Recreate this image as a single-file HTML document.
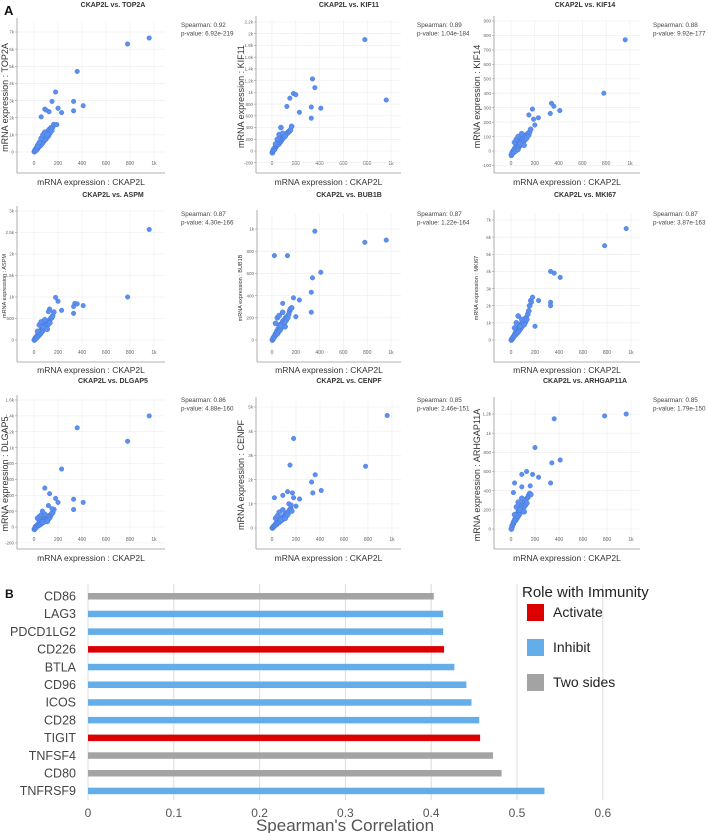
<!DOCTYPE html>
<html><head><meta charset="utf-8">
<style>
html,body{margin:0;padding:0;background:#fff;}
svg{display:block;font-family:"Liberation Sans",sans-serif;}
</style></head>
<body>
<svg id="fig" width="708" height="833" viewBox="0 0 708 833" xmlns="http://www.w3.org/2000/svg">
<text x="4" y="15" font-size="13" font-weight="bold" fill="#111">A</text>
<text x="5" y="598" font-size="12" font-weight="bold" fill="#111">B</text>
<g id="scatters"></g>
<g id="bars"></g>
</svg>
<script>
// ---------- Scatter data ----------
const clusterX = [3,8,12,18,22,28,33,38,42,48,52,58,63,68,72,78,82,88,92,98,103,108,115,120,125,132,140,148,155,165,30,45,60,75,90,110];
const geneNames = ["TOP2A","KIF11","KIF14","ASPM","BUB1B","MKI67","DLGAP5","CENPF","ARHGAP11A"];
const spearmanVals = ["0.92","0.89","0.88","0.87","0.87","0.87","0.86","0.85","0.85"];
const pValues = ["6.92e-219","1.04e-184","9.92e-177","4.30e-166","1.22e-164","3.87e-163","4.88e-160","2.46e-151","1.79e-150"];
const clusterTOP2A = [20,60,150,100,250,180,400,300,500,350,600,420,750,500,800,600,900,700,1000,750,1100,850,1200,950,1300,1100,1400,1250,1450,1600,350,550,800,1000,1150,1000];
const clusterKIF11 = [-30,0,20,40,30,60,80,90,100,110,130,120,160,150,170,180,200,210,220,240,250,260,280,290,300,310,330,340,360,420,120,200,280,400,300,250];
const clusterKIF14 = [-30,-20,-10,0,-10,10,20,0,30,20,40,10,50,30,60,40,70,50,80,60,90,70,100,80,110,90,120,110,130,150,60,80,100,50,120,40];
const clusterASPM = [0,20,50,40,80,70,120,100,150,130,200,160,250,200,280,240,320,270,350,300,380,330,420,370,450,400,500,520,560,650,200,350,420,300,470,250];
const clusterBUB1B = [0,10,20,30,30,50,60,50,80,60,100,80,120,90,140,110,150,130,170,140,180,160,200,180,210,200,230,260,280,290,150,200,220,130,250,120];
const clusterMKI67 = [0,50,100,150,200,250,350,300,450,400,550,450,700,550,800,650,900,750,1000,850,1100,950,1200,1050,1300,1200,1500,1700,2000,2300,700,1000,1400,800,1200,900];
const clusterDLGAP5 = [-30,-20,0,10,0,20,30,20,50,30,60,40,80,50,90,60,100,70,110,80,120,90,130,100,140,120,150,170,180,220,110,130,150,60,160,70];
const clusterCENPF = [0,20,60,80,100,130,180,150,230,200,280,230,330,280,380,320,420,360,470,400,520,450,570,500,620,560,680,750,800,700,400,500,650,350,750,400];
const clusterARHGAP11A = [0,20,40,50,70,80,100,90,130,110,160,130,190,150,210,170,230,190,250,210,270,230,290,250,310,270,330,350,370,360,150,230,280,200,320,180];
const outX_TOP2A = [780,960,360,180,150,330,410,200,90,230,330,125,60,100,190];
const outY_TOP2A = [6300,6650,4700,3500,2950,2950,2700,2550,2500,2300,2400,2350,2050,2450,1600];
const outX_KIF11 = [780,960,340,360,180,200,150,125,330,410,230,330];
const outY_KIF11 = [1900,870,1230,1080,980,960,900,760,750,730,660,560];
const outX_KIF14 = [960,780,340,360,410,180,150,330,230,190,200];
const outY_KIF14 = [770,400,330,310,280,290,250,260,230,220,180];
const outX_ASPM = [960,780,180,200,340,360,410,330,330,230,130,120];
const outY_ASPM = [2570,1000,990,900,850,840,800,780,620,690,720,660];
const outX_BUB1B = [360,780,960,20,130,410,340,330,180,230,90,200,330];
const outY_BUB1B = [980,880,900,760,760,610,560,430,380,360,330,210,250];
const outX_MKI67 = [960,780,330,360,410,180,230,330,330,170,200];
const outY_MKI67 = [6500,5500,4000,3900,3650,2500,2300,2200,2000,2200,800];
const outX_DLGAP5 = [960,360,780,230,90,130,180,330,410,200,330,70,120,150];
const outY_DLGAP5 = [1400,1250,1080,730,490,420,360,350,310,310,220,200,270,230];
const outX_CENPF = [960,180,780,150,360,330,410,340,130,20,90,170,180,230,200,140,160];
const outY_CENPF = [4650,3700,2550,2600,2200,1900,1550,1450,1500,1250,1350,1450,1250,1200,900,1000,950];
const outX_ARHGAP11A = [960,780,360,200,410,340,130,180,230,90,330,30,20,90,160];
const outY_ARHGAP11A = [1200,1180,1150,850,720,690,600,570,540,570,480,480,380,440,450];
const yTickVals = [
 [0,1000,2000,3000,4000,5000,6000,7000],
 [-200,0,200,400,600,800,1000,1200,1400,1600,1800,2000,2200],
 [-100,0,100,200,300,400,500,600,700,800,900],
 [0,500,1000,1500,2000,2500,3000],
 [0,200,400,600,800,1000],
 [0,1000,2000,3000,4000,5000,6000,7000],
 [-200,0,200,400,600,800,1000,1200,1400,1600],
 [0,1000,2000,3000,4000,5000],
 [0,200,400,600,800,1000,1200]
];
const xTickVals = [0,200,400,600,800,1000];
const clusterYs = [clusterTOP2A,clusterKIF11,clusterKIF14,clusterASPM,clusterBUB1B,clusterMKI67,clusterDLGAP5,clusterCENPF,clusterARHGAP11A];
const outXs = [outX_TOP2A,outX_KIF11,outX_KIF14,outX_ASPM,outX_BUB1B,outX_MKI67,outX_DLGAP5,outX_CENPF,outX_ARHGAP11A];
const outYs = [outY_TOP2A,outY_KIF11,outY_KIF14,outY_ASPM,outY_BUB1B,outY_MKI67,outY_DLGAP5,outY_CENPF,outY_ARHGAP11A];

// ---------- Bar data ----------
const barGenes = ["CD86","LAG3","PDCD1LG2","CD226","BTLA","CD96","ICOS","CD28","TIGIT","TNFSF4","CD80","TNFRSF9"];
const barValues = [0.403,0.414,0.414,0.415,0.427,0.441,0.447,0.456,0.457,0.472,0.482,0.532];
const barRoles = ["Two sides","Inhibit","Inhibit","Activate","Inhibit","Inhibit","Inhibit","Inhibit","Activate","Two sides","Two sides","Inhibit"];
const roleNames = ["Activate","Inhibit","Two sides"];
const xTicksBar = [0,0.1,0.2,0.3,0.4,0.5,0.6];

const NS = "http://www.w3.org/2000/svg";
function mk(tag, attrs, parent){const e=document.createElementNS(NS,tag);for(const k in attrs)e.setAttribute(k,attrs[k]);parent.appendChild(e);return e;}
function fmt(v){if(Math.abs(v)>=1000){const k=v/1000;return (Number.isInteger(k)?k:k.toFixed(1))+"k";}return String(v);}

// panel geometry (layout only)
const PX=[0,236,472], PY=[0,190,385];
const geom = [
 {L:17,B:173,T:22,R:165,x0:34,x1:154,yv0:0,yp0:152,yv1:7000,yp1:32,ylf:9},
 {L:20,B:173,T:20,R:165,x0:36,x1:155,yv0:0,yp0:151,yv1:2200,yp1:22,ylf:9},
 {L:22,B:173,T:20,R:168,x0:39,x1:158,yv0:0,yp0:151,yv1:900,yp1:21,ylf:9},
 {L:17,B:172,T:20,R:165,x0:34,x1:154,yv0:0,yp0:150,yv1:3000,yp1:21,ylf:5.5},
 {L:21,B:172,T:24,R:165,x0:36,x1:155,yv0:0,yp0:150,yv1:1000,yp1:39,ylf:5.5},
 {L:22,B:172,T:24,R:168,x0:39,x1:159,yv0:0,yp0:150,yv1:7000,yp1:30,ylf:5.5},
 {L:17,B:164,T:14,R:165,x0:34,x1:154,yv0:0,yp0:142,yv1:1600,yp1:15,ylf:9},
 {L:20,B:164,T:16,R:165,x0:36,x1:156,yv0:0,yp0:143,yv1:5000,yp1:22,ylf:9},
 {L:22,B:164,T:16,R:168,x0:39,x1:159,yv0:0,yp0:144,yv1:1200,yp1:29,ylf:9}
];
const titleY=[7,197,383], xlabY=[185,373,561], spY=[27,216,402];

const sc=document.getElementById('scatters');
for(let i=0;i<9;i++){
 const r=Math.floor(i/3), c=i%3, g=geom[i];
 const grp=mk('g',{transform:`translate(${PX[c]},${PY[r]})`},sc);
 
 
 const xs=v=>g.x0+(v/1000)*(g.x1-g.x0);
 const ys=v=>g.yp0+(v-g.yv0)*(g.yp1-g.yp0)/(g.yv1-g.yv0);
 xTickVals.forEach(v=>{mk('line',{x1:xs(v),x2:xs(v),y1:g.T,y2:g.B-4,stroke:'#ececec','stroke-width':0.6},grp);
   const t=mk('text',{x:xs(v),y:g.B-8,'font-size':5,'text-anchor':'middle',fill:'#666'},grp);t.textContent=fmt(v);
   });
 yTickVals[i].forEach(v=>{mk('line',{x1:g.L,x2:g.R,y1:ys(v),y2:ys(v),stroke:'#ececec','stroke-width':0.6},grp);
   mk('line',{x1:g.L-2,x2:g.L,y1:ys(v),y2:ys(v),stroke:'#999','stroke-width':0.6},grp);
   const t=mk('text',{x:g.L-3,y:ys(v)+1.7,'font-size':4.5,'text-anchor':'end',fill:'#666'},grp);t.textContent=fmt(v);
   });
 mk('line',{x1:g.L,x2:g.L,y1:g.T-4,y2:g.B,stroke:'#999','stroke-width':0.8},grp);
 mk('line',{x1:g.L,x2:g.R,y1:g.B,y2:g.B,stroke:'#999','stroke-width':0.8},grp);
 clusterX.forEach((x,j)=>{const p=mk('circle',{cx:xs(x),cy:ys(clusterYs[i][j]),r:2.6,fill:'#5b8ff0',stroke:'#3f73d6','stroke-width':0.4},grp);
   });
 outXs[i].forEach((x,j)=>{const p=mk('circle',{cx:xs(x),cy:ys(outYs[i][j]),r:2.3,fill:'#5b8ff0',stroke:'#3f73d6','stroke-width':0.4},grp);
   });
 const ti=mk('text',{x:113,y:titleY[r]-PY[r],'font-size':7,'font-weight':'bold','text-anchor':'middle',fill:'#333'},grp);
 ti.textContent='CKAP2L vs. '+geneNames[i];
 
 const s1=mk('text',{x:181,y:spY[r]-PY[r],'font-size':6.3,fill:'#444'},grp);s1.textContent='Spearman:  '+spearmanVals[i];
 
 const s2=mk('text',{x:181,y:spY[r]-PY[r]+8.5,'font-size':6.3,fill:'#444'},grp);s2.textContent='p-value:  '+pValues[i];
 
 const xl=mk('text',{x:(g.L+g.R)/2,y:xlabY[r]-PY[r],'font-size':8.5,'text-anchor':'middle',fill:'#333'},grp);xl.textContent='mRNA expression :  CKAP2L';
 
 const cy=(g.T+g.B)/2;
 const ylx = g.ylf>6 ? 8 : 6;
 const yl=mk('text',{x:0,y:0,'font-size':g.ylf,'text-anchor':'middle',fill:'#333',transform:`translate(${ylx},${cy}) rotate(-90)`},grp);
 yl.textContent='mRNA expression : '+geneNames[i];
 
}

// ---------- Bar chart ----------
const bg=document.getElementById('bars');
const bx=v=>88+v*858;
const by=i=>596+i*17.7;
const roleColor={"Activate":"#dd0000","Inhibit":"#63aee9","Two sides":"#a3a3a3"};
xTicksBar.forEach(v=>{
 const l=mk('line',{x1:bx(v),x2:bx(v),y1:584,y2:800,stroke:'#dcdcdc','stroke-width':1},bg);
 
 const t=mk('text',{x:bx(v),y:817,'font-size':12,'text-anchor':'middle',fill:'#555'},bg);t.textContent=String(v);
 
});
barGenes.forEach((gname,i)=>{
 const rc=mk('rect',{x:bx(0),y:by(i)-3,width:bx(barValues[i])-bx(0),height:6.5,fill:roleColor[barRoles[i]]},bg);
 
 const t=mk('text',{x:76,y:by(i)+4.5,'font-size':12.5,'text-anchor':'end',fill:'#444'},bg);t.textContent=gname;
 
});
const xt=mk('text',{x:345,y:831,'font-size':17,'text-anchor':'middle',fill:'#555'},bg);xt.textContent="Spearman's Correlation";

const lt=mk('text',{x:522,y:597,'font-size':15,fill:'#222'},bg);lt.textContent='Role with Immunity';

roleNames.forEach((rn,k)=>{
 const yy=604+k*35;
 const sw=mk('rect',{x:527,y:yy,width:17,height:17,fill:roleColor[rn]},bg);
 
 const t=mk('text',{x:553,y:yy+13,'font-size':14,fill:'#222'},bg);t.textContent=rn;
 
});
</script>
</body></html>
